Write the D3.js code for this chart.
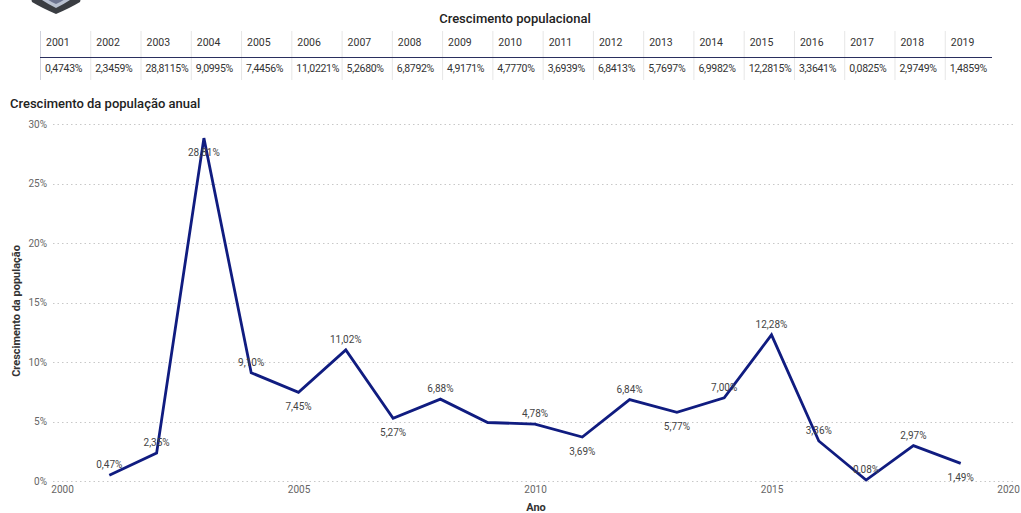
<!DOCTYPE html>
<html>
<head>
<meta charset="utf-8">
<script src="https://cdn.jsdelivr.net/npm/d3@7"></script>
<style>
  html, body { margin: 0; padding: 0; background: #fff; }
  svg { display: block; }
</style>
</head>
<body>
<svg id="chart" width="1021" height="513"></svg>
<script>
// ---- data ----
const years = [2001,2002,2003,2004,2005,2006,2007,2008,2009,2010,2011,2012,2013,2014,2015,2016,2017,2018,2019];
const growth = [0.4743,2.3459,28.8115,9.0995,7.4456,11.0221,5.2680,6.8792,4.9171,4.7770,3.6939,6.8413,5.7697,6.9982,12.2815,3.3641,0.0825,2.9749,1.4859];
const xTicks = [2000, 2005, 2010, 2015, 2020];
const yTicks = [0, 5, 10, 15, 20, 25, 30];
const labelsBelow = [2003, 2005, 2007, 2011, 2013, 2019];
const labelsHidden = [2009];

const tableTitle = "Crescimento populacional";
const chartTitle = "Crescimento da população anual";
const xTitle = "Ano";
const yTitle = "Crescimento da população";

const fmt4 = v => v.toFixed(4).replace(".", ",") + "%";
const fmt2 = v => v.toFixed(2).replace(".", ",") + "%";

const svg = d3.select("#chart");
const font = "Roboto, 'Noto Sans', sans-serif";
const tFont = "Roboto, 'Noto Sans', sans-serif";

// ---- logo (partially cut off at top) ----
const logo = svg.append("g");
logo.append("path")
  .attr("d", "M30,-6 L82,-6 L80,2 Q70,8 56,14 Q42,8 32,2 Z")
  .attr("fill", "#3a3d42");
logo.append("path")
  .attr("d", "M40,-6 L72,-6 L70,0 Q64,4 56,8 Q48,4 42,0 Z")
  .attr("fill", "#b8c0d0");
logo.append("path")
  .attr("d", "M45,-6 L67,-6 L65,-1 Q61,2 56,4 Q51,2 47,-1 Z")
  .attr("fill", "#6d7590");

// ---- table ----
const colX = d3.scaleBand().domain(years).range([40, 995]).paddingInner(0).paddingOuter(0);
svg.append("text")
  .attr("x", 515).attr("y", 23)
  .attr("text-anchor", "middle")
  .attr("font-family", font).attr("font-weight", 500)
  .attr("font-size", 13).attr("fill", "#222")
  .text(tableTitle);

const tbl = svg.append("g");
tbl.selectAll("line.sep").data(years).join("line")
  .attr("class", "sep")
  .attr("x1", d => colX(d) + 0.5).attr("x2", d => colX(d) + 0.5)
  .attr("y1", 31).attr("y2", 80)
  .attr("stroke", (d, i) => i === 0 ? "#d0d2dc" : "#e6e6e6").attr("stroke-width", 1);
tbl.append("line")
  .attr("x1", 40).attr("x2", 992).attr("y1", 57.5).attr("y2", 57.5)
  .attr("stroke", "#2a2f5e").attr("stroke-width", 1);
tbl.selectAll("text.hdr").data(years).join("text")
  .attr("class", "hdr")
  .attr("x", d => colX(d) + 6).attr("y", 46)
  .attr("font-family", tFont).attr("font-size", 10.5).attr("fill", "#333")
  .text(d => d);
tbl.selectAll("text.val").data(growth).join("text")
  .attr("class", "val")
  .attr("x", (d, i) => colX(years[i]) + 5).attr("y", 72)
  .attr("font-family", tFont).attr("font-size", 10.5).attr("fill", "#333")
  .attr("letter-spacing", -0.3)
  .text(d => fmt4(d));

// ---- line chart ----
const x = d3.scaleLinear().domain([2000, 2020]).range([62, 1008]);
const y = d3.scaleLinear().domain([0, 30]).range([481, 124]);

svg.append("text")
  .attr("x", 10).attr("y", 108)
  .attr("font-family", font).attr("font-weight", 500)
  .attr("font-size", 13).attr("fill", "#222")
  .text(chartTitle);

// gridlines
svg.append("g").selectAll("line").data(yTicks).join("line")
  .attr("x1", 53).attr("x2", 1016)
  .attr("y1", d => Math.round(y(d)) + 0.5).attr("y2", d => Math.round(y(d)) + 0.5)
  .attr("stroke", "#c8c8c8").attr("stroke-width", 1)
  .attr("stroke-dasharray", "1.5,3");

// y axis
const yAxis = svg.append("g")
  .attr("transform", "translate(47,0)")
  .call(d3.axisLeft(y).tickValues(yTicks).tickSize(0).tickPadding(0).tickFormat(d => d + "%"));
yAxis.select(".domain").remove();
yAxis.selectAll("text")
  .attr("font-family", font).attr("font-size", 10).attr("fill", "#666");

// x axis
const xAxis = svg.append("g")
  .attr("transform", "translate(0,486)")
  .call(d3.axisBottom(x).tickValues(xTicks).tickSize(0).tickPadding(0).tickFormat(d3.format("d")));
xAxis.select(".domain").remove();
xAxis.selectAll("text")
  .attr("font-family", font).attr("font-size", 10).attr("fill", "#666");

// axis titles
svg.append("text")
  .attr("x", 536).attr("y", 511)
  .attr("text-anchor", "middle")
  .attr("font-family", font).attr("font-weight", 700)
  .attr("font-size", 11).attr("fill", "#333")
  .text(xTitle);
svg.append("text")
  .attr("transform", "translate(20,311) rotate(-90)")
  .attr("text-anchor", "middle")
  .attr("font-family", font).attr("font-weight", 700)
  .attr("font-size", 11).attr("fill", "#333")
  .text(yTitle);

// line
const pts = years.map((yr, i) => ({ yr, v: growth[i] }));
svg.append("path")
  .datum(pts)
  .attr("d", d3.line().x(d => x(d.yr)).y(d => y(d.v)))
  .attr("fill", "none")
  .attr("stroke", "#101c80")
  .attr("stroke-width", 2.8)
  .attr("stroke-linejoin", "miter");

// data labels
svg.append("g").selectAll("text")
  .data(pts.filter(d => !labelsHidden.includes(d.yr)))
  .join("text")
  .attr("x", d => x(d.yr))
  .attr("y", d => labelsBelow.includes(d.yr) ? y(d.v) + 18 : y(d.v) - 7)
  .attr("text-anchor", "middle")
  .attr("font-family", font).attr("font-size", 10).attr("fill", "#444")
  .text(d => fmt2(d.v));
</script>
</body>
</html>
